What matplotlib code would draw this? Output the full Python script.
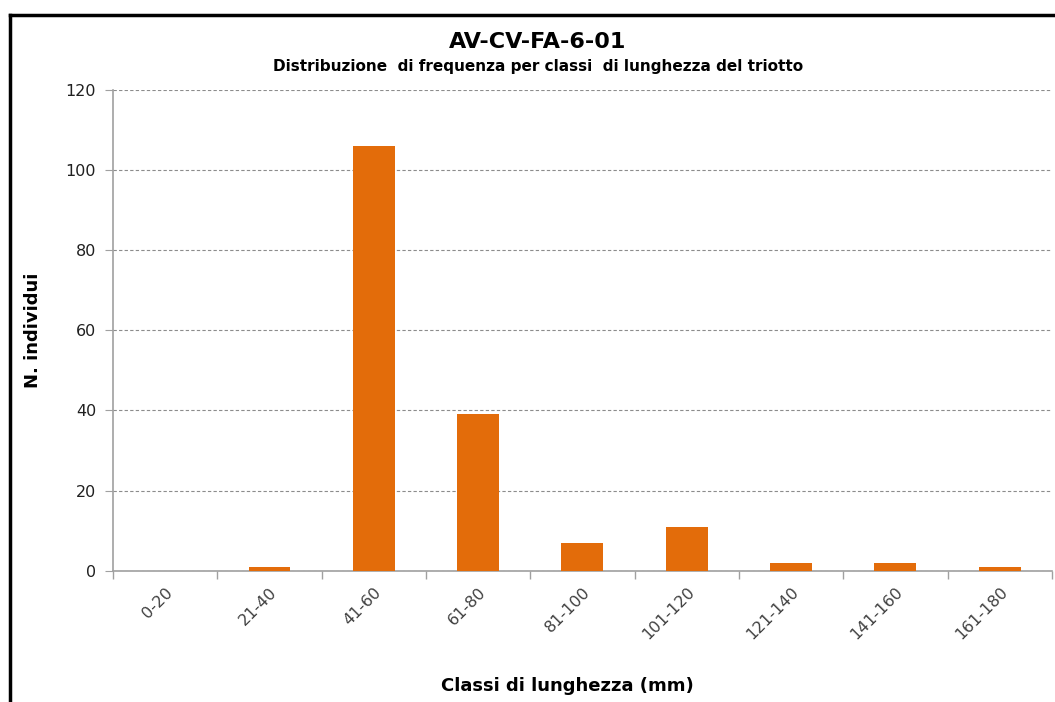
import numpy as np
import matplotlib.pyplot as plt
from matplotlib.lines import Line2D

# data
classes = ['0-20', '21-40', '41-60', '61-80', '81-100', '101-120',
           '121-140', '141-160', '161-180']
counts = [0, 1, 106, 39, 7, 11, 2, 2, 1]

fig = plt.figure(figsize=(10.55, 7.02), dpi=100)
ax = fig.add_axes([0.107, 0.187, 0.89, 0.685])

x = np.arange(len(classes))
ax.bar(x, counts, width=0.4, color='#e36c0a', zorder=3)

ax.set_xlim(-0.5, len(classes) - 0.5)
ax.set_ylim(0, 120)
ax.set_yticks(np.arange(0, 121, 20))
ax.yaxis.grid(True, linestyle=(0, (3, 2)), color='#8c8c8c', linewidth=0.8, zorder=0)

ax.set_xticks(x)
ax.set_xticklabels(classes, rotation=45, ha='right', rotation_mode='anchor',
                   fontsize=11.5, color='#404040')
ax.set_xticks(np.arange(-0.5, len(classes)), minor=True)
ax.tick_params(axis='x', which='major', length=0, pad=10)
ax.tick_params(axis='x', which='minor', length=6, color='#a0a0a0', width=1)
ax.tick_params(axis='y', length=6, color='#a0a0a0', labelsize=11.5, labelcolor='#202020', pad=6)

for s in ['top', 'right']:
    ax.spines[s].set_visible(False)
for s in ['left', 'bottom']:
    ax.spines[s].set_color('#a0a0a0')
    ax.spines[s].set_linewidth(1.2)

ax.set_ylabel('N. individui', fontsize=13, fontweight='bold')
ax.yaxis.set_label_coords(-0.075, 0.5)
fig.text(0.538, 0.016, 'Classi di lunghezza (mm)', ha='center', fontsize=13, fontweight='bold')

fig.text(0.51, 0.94, 'AV-CV-FA-6-01', ha='center', va='center', fontsize=16, fontweight='bold')
fig.text(0.51, 0.905, 'Distribuzione  di frequenza per classi  di lunghezza del triotto',
         ha='center', va='center', fontsize=11, fontweight='bold',
         family=['Liberation Sans Narrow', 'DejaVu Sans'])

# frame around the chart
fig.add_artist(Line2D([10/1055, 10/1055], [0, 1 - 15/702], color='black', lw=2.5,
                      transform=fig.transFigure))
fig.add_artist(Line2D([10/1055, 1], [1 - 15/702, 1 - 15/702], color='black', lw=2.5,
                      transform=fig.transFigure))

fig.savefig('out.png', dpi=100)
